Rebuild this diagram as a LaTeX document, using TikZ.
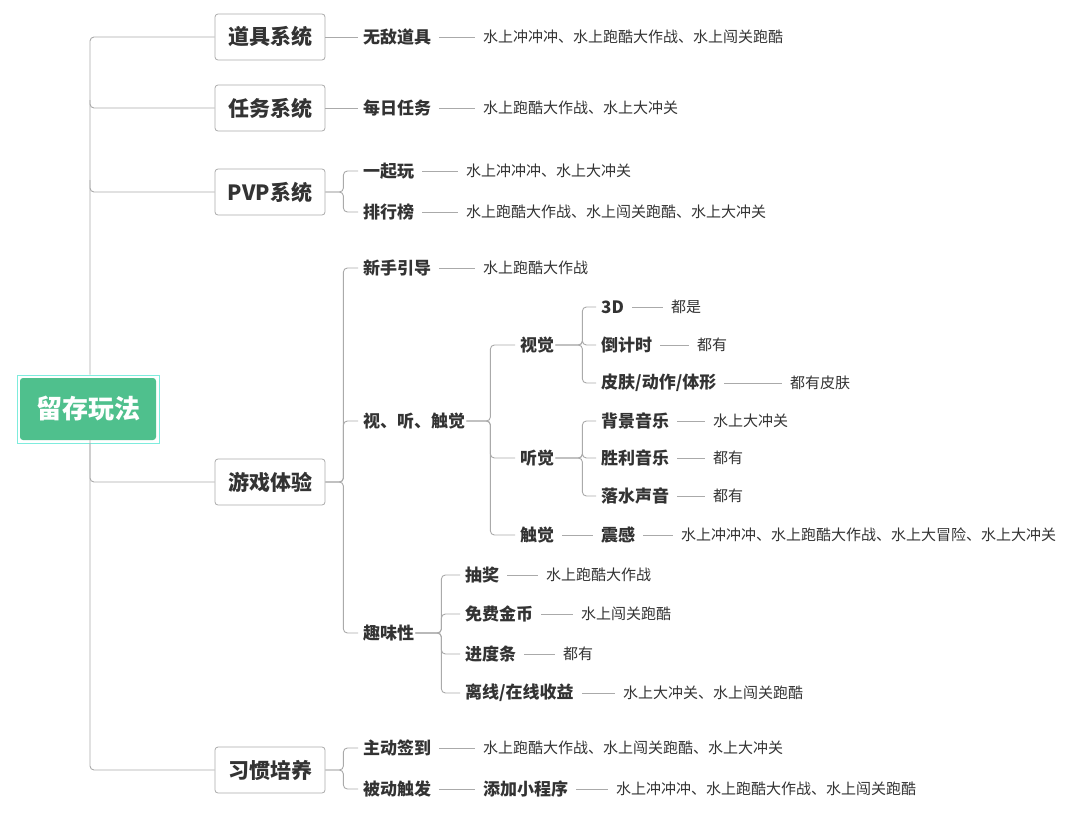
\documentclass[tikz,border=0pt]{standalone}
\usepackage{fontspec}
\setmainfont{Noto Sans CJK SC}
\usetikzlibrary{calc}
\definecolor{ln}{HTML}{AAAAAA}
\definecolor{tx}{HTML}{333333}
\definecolor{rootg}{HTML}{4FC08D}
\begin{document}
\begin{tikzpicture}[x=1pt,y=-1pt,
  lvone/.style={draw=ln,line width=0.8pt,rounded corners=3pt,fill=white,minimum width=110pt,minimum height=46pt,font=\fontsize{21}{24}\selectfont\bfseries,text=tx},
  lab/.style={anchor=west,inner sep=1pt,font=\fontsize{17}{20}\selectfont\bfseries,text=tx},
  leaf/.style={anchor=west,inner sep=1pt,font=\fontsize{15}{18}\selectfont,text=tx},
  con/.style={draw=ln,line width=0.9pt,rounded corners=4pt},
  dl/.style={draw=ln,line width=0.9pt,shorten <=7pt,shorten >=7pt}]
\useasboundingbox (0,0) rectangle (1080,822);
% root
\node[draw=rootg!50!cyan!60,line width=1pt,inner sep=0,minimum width=142pt,minimum height=68pt] (rootb) at (88,409) {};
\node[fill=rootg,rounded corners=3pt,minimum width=136pt,minimum height=62pt,text=white,font=\fontsize{26}{30}\selectfont\bfseries] (root) at (88,409) {留存玩法};
% level 1
\node[lvone] (a) at (270,37) {道具系统};
\node[lvone] (b) at (270,108) {任务系统};
\node[lvone] (c) at (270,192) {PVP系统};
\node[lvone] (d) at (270,482) {游戏体验};
\node[lvone] (e) at (270,770) {习惯培养};
\draw[con] (rootb.north -| 90,0) -- (90,37) -- (a.west);
\draw[con] (90,100) |- (b.west);
\draw[con] (90,180) |- (c.west);
\draw[con] (90,440) |- (d.west);
\draw[con] (rootb.south -| 90,0) -- (90,770) -- (e.west);
% helper macro via styles
\newcommand{\br}[3]{\draw[con] (#1.east) -- ($(#1.east)+(#2,0)$) |- ([xshift=-4pt]#3.west);}
% a
\node[lab] (a1) at (362,37) {无敌道具};
\node[leaf] (a1l) at (482,37) {水上冲冲冲、水上跑酷大作战、水上闯关跑酷};
\draw[con] (a.east) -- ([xshift=-4pt]a1.west); \draw[dl] (a1.east) -- (a1l.west);
% b
\node[lab] (b1) at (362,108) {每日任务};
\node[leaf] (b1l) at (482,108) {水上跑酷大作战、水上大冲关};
\draw[con] (b.east) -- ([xshift=-4pt]b1.west); \draw[dl] (b1.east) -- (b1l.west);
% c
\node[lab] (c1) at (362,171) {一起玩};
\node[leaf] (c1l) at (465,171) {水上冲冲冲、水上大冲关};
\node[lab] (c2) at (362,212) {排行榜};
\node[leaf] (c2l) at (465,212) {水上跑酷大作战、水上闯关跑酷、水上大冲关};
\br{c}{18}{c1}\br{c}{18}{c2}
\draw[dl] (c1.east) -- (c1l.west); \draw[dl] (c2.east) -- (c2l.west);
% d
\node[lab] (d1) at (362,268) {新手引导};
\node[leaf] (d1l) at (482,268) {水上跑酷大作战};
\node[lab] (d2) at (362,421) {视、听、触觉};
\node[lab] (d3) at (362,633) {趣味性};
\br{d}{18}{d1}\br{d}{18}{d2}\br{d}{18}{d3}
\draw[dl] (d1.east) -- (d1l.west);
\node[lab] (v) at (519,345) {视觉};
\node[lab] (h) at (519,458) {听觉};
\node[lab] (t) at (519,535) {触觉};
\br{d2}{24}{v}\br{d2}{24}{h}\br{d2}{24}{t}
\node[lab] (v1) at (600,307) {3D};
\node[leaf] (v1l) at (670,307) {都是};
\node[lab] (v2) at (600,345) {倒计时};
\node[leaf] (v2l) at (696,345) {都有};
\node[lab] (v3) at (600,383) {皮肤/动作/体形};
\node[leaf] (v3l) at (789,383) {都有皮肤};
\br{v}{27}{v1}\br{v}{27}{v2}\br{v}{27}{v3}
\draw[dl] (v1.east) -- (v1l.west);\draw[dl] (v2.east) -- (v2l.west);\draw[dl] (v3.east) -- (v3l.west);
\node[lab] (h1) at (600,421) {背景音乐};
\node[leaf] (h1l) at (712,421) {水上大冲关};
\node[lab] (h2) at (600,458) {胜利音乐};
\node[leaf] (h2l) at (712,458) {都有};
\node[lab] (h3) at (600,496) {落水声音};
\node[leaf] (h3l) at (712,496) {都有};
\br{h}{27}{h1}\br{h}{27}{h2}\br{h}{27}{h3}
\draw[dl] (h1.east) -- (h1l.west);\draw[dl] (h2.east) -- (h2l.west);\draw[dl] (h3.east) -- (h3l.west);
\node[lab] (t1) at (600,535) {震感};
\node[leaf] (t1l) at (680,535) {水上冲冲冲、水上跑酷大作战、水上大冒险、水上大冲关};
\draw[dl] (t.east) -- (t1.west); \draw[dl] (t1.east) -- (t1l.west);
\node[lab] (f1) at (464,575) {抽奖};
\node[leaf] (f1l) at (545,575) {水上跑酷大作战};
\node[lab] (f2) at (464,614) {免费金币};
\node[leaf] (f2l) at (580,614) {水上闯关跑酷};
\node[lab] (f3) at (464,654) {进度条};
\node[leaf] (f3l) at (562,654) {都有};
\node[lab] (f4) at (464,693) {离线/在线收益};
\node[leaf] (f4l) at (622,693) {水上大冲关、水上闯关跑酷};
\br{d3}{26}{f1}\br{d3}{26}{f2}\br{d3}{26}{f3}\br{d3}{26}{f4}
\draw[dl] (f1.east) -- (f1l.west);\draw[dl] (f2.east) -- (f2l.west);\draw[dl] (f3.east) -- (f3l.west);\draw[dl] (f4.east) -- (f4l.west);
% e
\node[lab] (e1) at (362,748) {主动签到};
\node[leaf] (e1l) at (482,748) {水上跑酷大作战、水上闯关跑酷、水上大冲关};
\node[lab] (e2) at (362,789) {被动触发};
\node[lab] (e3) at (482,789) {添加小程序};
\node[leaf] (e3l) at (615,789) {水上冲冲冲、水上跑酷大作战、水上闯关跑酷};
\br{e}{18}{e1}\br{e}{18}{e2}
\draw[dl] (e1.east) -- (e1l.west);\draw[dl] (e2.east) -- (e3.west);\draw[dl] (e3.east) -- (e3l.west);
\end{tikzpicture}
\end{document}
